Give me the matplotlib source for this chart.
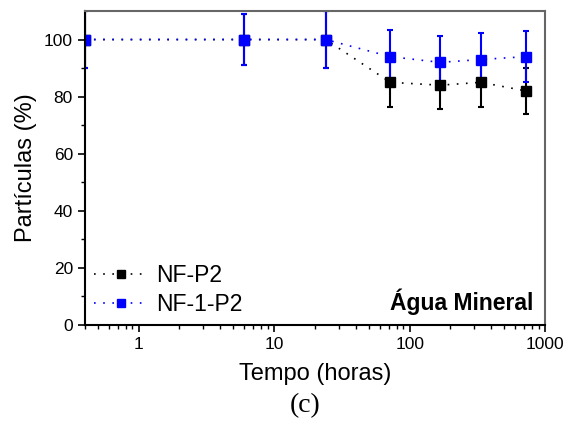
import matplotlib
matplotlib.use("Agg")
import matplotlib.pyplot as plt
import numpy as np

plt.rcParams['font.family'] = ['Liberation Sans', 'DejaVu Sans']

tempo = [0.4, 6, 24, 72, 168, 336, 720]
nf_p2 = [100, 100, 100, 85, 84, 85, 82]
nf_p2_err = [10, 9, 10, 8.5, 8.5, 8.5, 8]
nf1_p2 = [100, 100, 100, 94, 92, 93, 94]
nf1_p2_err = [10, 9, 10, 9.3, 9.3, 9.2, 9]

fig = plt.figure(figsize=(5.69, 4.23), dpi=100)
ax = fig.add_axes([0.149, 0.232, 0.809, 0.742])

dots = (0, (1, 4.5))
ax.errorbar(tempo, nf_p2, yerr=nf_p2_err, color='black', ls=dots, lw=1.2,
            marker='s', ms=6.5, elinewidth=1.5, capsize=2.5, capthick=1.5,
            label='NF-P2')
ax.errorbar(tempo, nf1_p2, yerr=nf1_p2_err, color='#0000ff', ls=dots, lw=1.2,
            marker='s', ms=6.5, elinewidth=1.5, capsize=2.5, capthick=1.5,
            label='NF-1-P2')

ax.set_xscale('log')
ax.set_xlim(0.4, 1000)
ax.set_ylim(0, 110)
ax.set_yticks([0, 20, 40, 60, 80, 100])
ax.set_yticks(np.arange(10, 110, 20), minor=True)
ax.set_xticks([1, 10, 100, 1000])
ax.set_xticklabels(['1', '10', '100', '1000'])

for s in ['left', 'bottom']:
    ax.spines[s].set_linewidth(1.5)
    ax.spines[s].set_color('black')
for s in ['top', 'right']:
    ax.spines[s].set_linewidth(1.5)
    ax.spines[s].set_color('#666666')

ax.tick_params(which='major', direction='out', length=5, width=1.2, labelsize=12.5, top=False, right=False)
ax.tick_params(which='minor', direction='out', length=3, width=1.0, top=False, right=False)

ax.set_xlabel('Tempo (horas)', fontsize=17, labelpad=8)
ax.set_ylabel('Partículas (%)', fontsize=17, labelpad=5)

handles, labels = ax.get_legend_handles_labels()
handles = [h[0] for h in handles]
ax.legend(handles, labels, loc='lower left', frameon=False, fontsize=16.5,
          handlelength=2.4, handletextpad=0.3, labelspacing=0.3, markerscale=0.8,
          borderaxespad=0.0, borderpad=0.3, bbox_to_anchor=(0.005, 0.005))

ax.text(0.975, 0.03, 'Água Mineral', transform=ax.transAxes, ha='right', va='bottom',
        fontsize=16.5, fontweight='bold')

fig.text(0.536, 0.04, '(c)', ha='center', va='center', fontsize=20, family='Liberation Serif')

fig.savefig('out.png', dpi=100)
